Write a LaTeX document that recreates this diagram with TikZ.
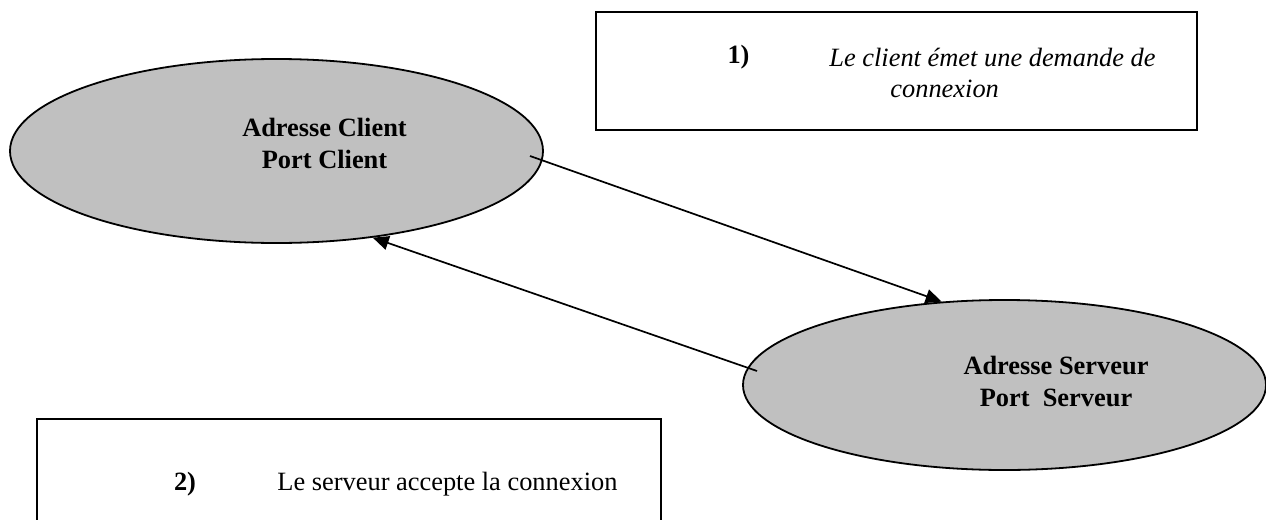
\documentclass[tikz,border=0pt]{standalone}
\usepackage{fontspec}
\setmainfont{Liberation Serif}
\usetikzlibrary{arrows.meta,positioning,shapes.geometric}

\begin{document}
\begin{tikzpicture}[x=0.5pt,y=-0.5pt,
    bulle/.style={ellipse, draw, line width=0.9pt, fill=gris, inner sep=0pt},
    cadre/.style={rectangle, draw, line width=0.8pt, inner sep=0pt},
    texte/.style={font=\fontsize{13.2}{16}\selectfont, inner sep=0pt},
    fleche/.style={line width=0.85pt, -{Triangle[length=8pt,width=7pt]}}]
                    \definecolor{gris}{RGB}{192,192,192}
                    \useasboundingbox (0,0) rectangle (1266,520);
                    \clip (0,0) rectangle (1266,520);

                    \node[bulle, minimum width=266.5pt, minimum height=92pt] (client) at (276.5,151) {};
                    \node[bulle, minimum width=261.5pt, minimum height=85pt] (serveur) at (1004.5,385) {};

                    \node[texte, align=center] (clientnom) at (324.5,143) {\textbf{Adresse Client}\\\textbf{Port Client}};
                    \node[texte, align=center] (serveurnom) at (1056,381.5) {\textbf{Adresse Serveur}\\\textbf{Port\ \ Serveur}};

                    \node[cadre, minimum width=300.5pt, minimum height=59pt] (etape1) at (896.5,71) {};
                    \node[cadre, minimum width=312pt, minimum height=70.5pt] (etape2) at (349,489.5) {};

                    \node[texte] (num1) at (738.5,57) {\textbf{1)}};
                    \node[texte, anchor=west] (demande) at (829,57) {\textit{Le client émet une demande de}};
                    \node[texte, anchor=west] (demandesuite) at (890,89) {\textit{connexion}};
                    \node[texte] (num2) at (185,484) {\textbf{2)}};
                    \node[texte, anchor=west] (accepte) at (277,484) {Le serveur accepte la connexion};

                    \coordinate (depart1) at (530,156);
                    \coordinate (depart2) at (757,371);
                    \draw[fleche] (depart1) -- (serveur.127);
                    \draw[fleche] (depart2) -- (client.-42);
                \end{tikzpicture}
\end{document}
